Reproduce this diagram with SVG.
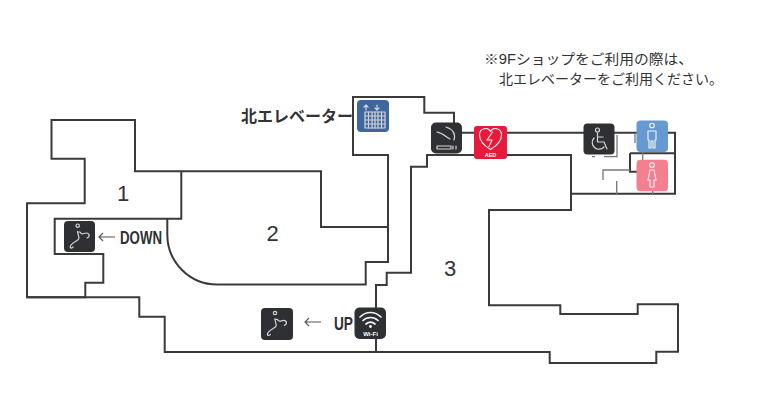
<svg xmlns="http://www.w3.org/2000/svg" width="770" height="420" viewBox="0 0 770 420">
<style>
.w{fill:none;stroke:#3a3a3c;stroke-width:2;stroke-linejoin:miter}
.t{fill:none;stroke:#77777a;stroke-width:1.3}
.ib{fill:#2f3034}
.g{fill:none;stroke:#d4d4d6;stroke-width:1.2;stroke-linecap:round;stroke-linejoin:round}
.gw{fill:none;stroke:#f4f4f6;stroke-width:1.1;stroke-linecap:round;stroke-linejoin:round}
.jp{font-family:"Liberation Sans","Noto Sans CJK JP",sans-serif;fill:#333}
.n{font-family:"Liberation Sans",sans-serif;font-size:22px;fill:#333;text-anchor:middle}
.c{font-family:"Liberation Sans",sans-serif;font-weight:700;font-size:19px;fill:#2f3034}
.a{fill:none;stroke:#555;stroke-width:1.1}
</style>
<rect width="770" height="420" fill="#fff"/>
<g id="connectors">
<path class="w" d="M51.500 120H135V171.300H321V227H388M181.300 171.300V218.700H54.700V254H103.300V282.700H85.300V297.300H27V203.300H84.700V158.700H51.500V119"/>
<path class="w" d="M27 297.300H139.300V316.700H164.700V352H549.700V363H656.300V351.700H678V304.300H637.700V314H560.300V305.300H489V210H571V155H427V166.700H411V272.700H386.700V285H376V352"/>
<path class="w" d="M571 210V193.700H675V132.700H462M454 123V112.700H424.300V97H353V155H388V262H365.700V284.500H217A50 50 0 0 1 167.300 235V218.700"/>
<path class="w" d="M630 153.300H675M630 153.300V171.700H640"/>
<path class="t" d="M603 180V170H630M616.700 181V194M652.700 190V194M635 133V143M642.700 152V160M592 156.700H595M604 156.700H617V135"/>
</g>
<g id="label-1"><text class="n" x="123" y="200.500">1</text></g>
<g id="label-2"><text class="n" x="272.500" y="240.500">2</text></g>
<g id="label-3"><text class="n" x="450" y="276">3</text></g>
<g id="notice">
<text class="jp" x="484" y="64" font-size="14" textLength="209" lengthAdjust="spacingAndGlyphs">※9Fショップをご利用の際は、</text>
<text class="jp" x="499" y="84" font-size="14" textLength="224" lengthAdjust="spacingAndGlyphs">北エレベーターをご利用ください。</text>
</g>
<g id="north-elevator">
<text class="jp" x="241" y="122" font-size="16" font-weight="700" textLength="112" lengthAdjust="spacingAndGlyphs">北エレベーター</text>
<rect x="357" y="100" width="32" height="32" rx="4" fill="#3f679f"/>
<path class="g" d="M366 110V105M364 107L366 105L368 107M377 105V110M375 108L377 110L379 108"/>
<rect x="365" y="112" width="20" height="16" class="g"/>
<path class="g" d="M368.500 112V128M372 112V128M375 112V128M378 112V128M381.500 112V128M365 116H385M365 120H385M365 124H385"/>
</g>
<g id="smoking">
<rect x="431" y="122.500" width="31" height="31" rx="5" class="ib"/>
<path class="g" d="M437 132C443 133 446 137 450 139M446 127C452 129 456 133 454 140M437 146H451V149H437ZM453 146V149M456 146V149"/>
</g>
<g id="aed">
<rect x="474" y="126" width="33" height="33" rx="3" fill="#e8193a"/>
<path class="gw" d="M490.500 149.500C483 145 479.500 140 479.500 135C479.500 128 488 126.500 490.500 131.500C493 126.500 501.500 128 501.500 135C501.500 140 498 145 490.500 149.500ZM492.500 132L487 140H492L489 146.500"/>
<text x="490.500" y="157" font-family="Liberation Sans,sans-serif" font-size="5.500" font-weight="700" fill="#fff" text-anchor="middle">AED</text>
</g>
<g id="wheelchair">
<rect x="583.500" y="123.500" width="31" height="31" rx="4" class="ib"/>
<circle cx="597.500" cy="130" r="2" class="g"/>
<path class="g" d="M597.500 133V142H604L607 149M597.500 137H603M594 138A6.500 6.500 0 1 0 604 147"/>
</g>
<g id="mens-toilet">
<rect x="636.500" y="120.500" width="31.500" height="31.500" rx="4" fill="#6699cf"/>
<circle cx="652" cy="125.500" r="2.300" class="gw"/>
<path class="gw" d="M648 131H656V140H655V148H653V141H651V148H649V140H648Z"/>
</g>
<g id="womens-toilet">
<rect x="636.500" y="159.700" width="31.500" height="31.500" rx="4" fill="#f47f8f"/>
<circle cx="652" cy="165" r="2.300" class="gw"/>
<path class="gw" d="M650 170H654L656 180H654V187H650V180H648Z"/>
</g>
<g id="escalator-down">
<rect x="64" y="221" width="31" height="31" rx="4" class="ib"/>
<circle cx="77.700" cy="225.700" r="1.700" class="g"/>
<path class="g" d="M77.500 231.500L79 238C79 241 74 241 71 245C69 248 71 249 73 247M77.500 232H80C82 236 84 233 86 233C90 233 90 237 87 238"/>
<path class="a" d="M115 237H99M103 233L99 237L103 241"/>
<text class="c" x="120" y="244" textLength="42" lengthAdjust="spacingAndGlyphs">DOWN</text>
</g>
<g id="escalator-up">
<rect x="261" y="308" width="32" height="32" rx="4" class="ib"/>
<circle cx="275" cy="313" r="1.700" class="g"/>
<path class="g" d="M274.800 318.800L276.300 325.300C276.300 328.300 271.300 328.300 268.300 332.300C266.300 335.300 268.300 336.300 270.300 334.300M274.800 319.300H277.300C279.300 323.300 281.300 320.300 283.300 320.300C287.300 320.300 287.300 324.300 284.300 325.300"/>
<path class="a" d="M321 322H305M309 318L305 322L309 326"/>
<text class="c" x="334" y="329.500" textLength="19" lengthAdjust="spacingAndGlyphs">UP</text>
</g>
<g id="wifi">
<rect x="354.500" y="307.500" width="31.500" height="31.500" rx="5" class="ib"/>
<path d="M360 317C366 311 375 311 381 317M363 320.500C367 316.500 374 316.500 378 320.500M366 324C369 321.500 372 321.500 375 324" fill="none" stroke="#f4f4f6" stroke-width="1.700" stroke-linecap="round"/>
<circle cx="370.500" cy="326.500" r="1.400" fill="#fff"/>
<text x="370.500" y="335.500" font-family="Liberation Sans,sans-serif" font-size="6" font-weight="700" fill="#fff" text-anchor="middle">Wi-Fi</text>
</g>
</svg>
